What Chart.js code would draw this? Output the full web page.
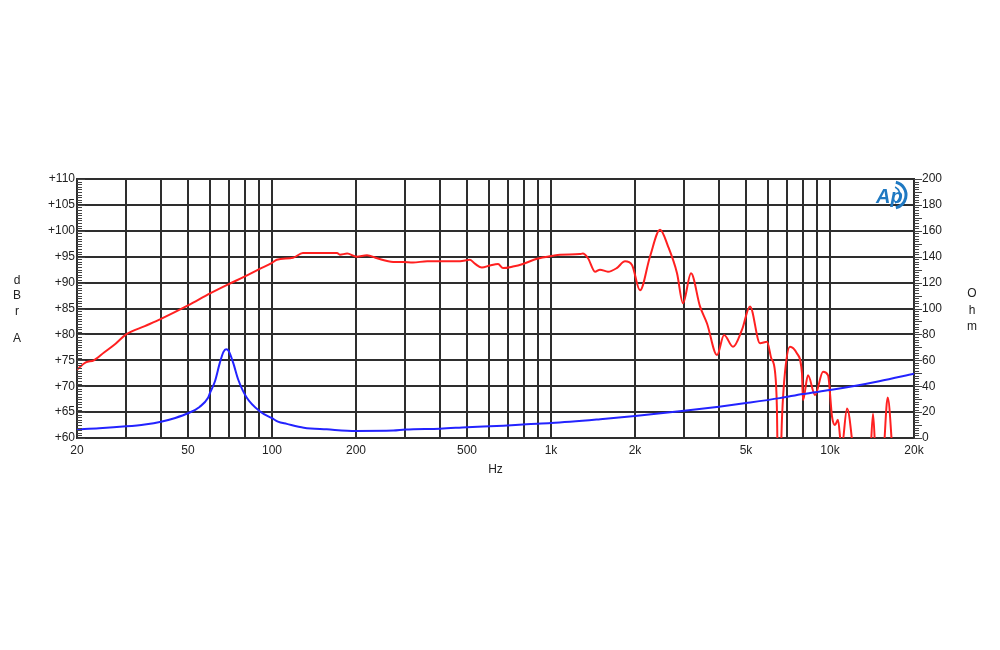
<!DOCTYPE html>
<html lang="en">
<head>
<meta charset="UTF-8">
<title>Frequency response</title>
<script src="https://cdn.jsdelivr.net/npm/chart.js"></script>
<style>
  body { margin: 0; background: #fff; }
</style>
</head>
<body>
<canvas id="fr" width="1000" height="650"></canvas>
<script>
// SPL curve (dBr A, left axis)
const splFreq = [20, 21.5, 23, 25, 27.5, 30, 35, 40, 50, 60, 70, 80, 90, 100, 104, 119, 129, 171, 175, 186, 201, 219, 238, 272, 295, 320, 360, 472, 512, 535, 565, 604, 646, 673, 730, 793, 891, 1015, 1077, 1268, 1300, 1357, 1438, 1498, 1600, 1720, 1842, 1951, 2084, 2263, 2459, 2627, 2829, 2972, 3175, 3420, 3624, 3936, 4171, 4491, 4837, 5168, 5613, 5947, 6150, 6352, 6450, 6520, 6650, 6730, 6900, 7188, 7615, 7935, 8000, 8340, 8840, 9440, 9840, 10170, 10420, 10680, 11000, 11510, 12290, 13000, 13900, 14260, 14650, 15400, 16100, 16900, 18000, 20000];
const splDb = [73.2, 74.6, 75.0, 76.5, 78.2, 80.0, 81.6, 83.0, 85.6, 87.9, 89.7, 91.2, 92.6, 93.8, 94.4, 94.8, 95.7, 95.7, 95.4, 95.6, 95.0, 95.3, 94.7, 94.0, 94.0, 93.9, 94.1, 94.1, 94.4, 93.6, 92.9, 93.3, 93.6, 92.8, 93.1, 93.6, 94.6, 95.2, 95.4, 95.5, 95.6, 94.7, 92.1, 92.5, 92.1, 92.8, 94.1, 93.4, 88.5, 95.0, 100.2, 97.0, 91.8, 86.0, 91.8, 85.4, 82.1, 76.0, 79.9, 77.6, 80.9, 85.4, 78.3, 78.6, 75.5, 72.8, 66.0, 50.0, 55.0, 64.0, 72.8, 77.6, 76.3, 72.5, 67.3, 72.1, 68.3, 72.8, 72.1, 64.1, 62.5, 63.5, 58.0, 65.7, 55.0, 50.0, 55.0, 64.7, 55.0, 55.0, 67.8, 55.0, 50.0, 50.0];

// impedance curve (Ohm, right axis)
const impFreq = [20, 24, 30, 35, 40, 45, 50, 55, 59, 60, 62.5, 65, 67, 68.5, 70, 72.6, 75.7, 81, 90.6, 100, 105, 113, 130, 157, 200, 272, 300, 400, 500, 674, 817, 1000, 1500, 2000, 3000, 4000, 5000, 6600, 8000, 10000, 12500, 15000, 20000];
const impOhm = [6.7, 7.5, 9.0, 10.5, 12.6, 15.5, 19.1, 24.0, 31.0, 35.0, 44.0, 58.0, 66.5, 68.5, 67.0, 58.0, 45.0, 31.5, 20.5, 15.3, 12.6, 10.9, 8.0, 6.7, 5.4, 5.7, 6.5, 7.2, 8.3, 9.5, 10.6, 11.5, 14.5, 17.0, 21.0, 24.2, 27.0, 30.8, 34.0, 37.0, 40.5, 43.8, 49.6];

// x grid lines and labelled ticks
const xGrid = [20, 30, 40, 50, 60, 70, 80, 90, 100, 200, 300, 400, 500, 600, 700, 800, 900, 1000, 2000, 3000, 4000, 5000, 6000, 7000, 8000, 9000, 10000, 20000];
const xLabelVals = [20, 50, 100, 200, 500, 1000, 2000, 5000, 10000, 20000];
const xLabelText = ['20', '50', '100', '200', '500', '1k', '2k', '5k', '10k', '20k'];

const gridColor = '#2e2e2e';
const textColor = '#222';
const tickFont = { family: '"Liberation Sans", Arial, sans-serif', size: 12 };

// small ticks along both vertical axes
const minorTicks = {
  id: 'minorTicks',
  afterDraw(chart) {
    const ctx = chart.ctx;
    const y = chart.scales.y, y2 = chart.scales.y2;
    const a = chart.chartArea;
    ctx.save();
    ctx.strokeStyle = '#444';
    ctx.lineWidth = 1;
    ctx.beginPath();
    for (let v = 60; v <= 110; v += 0.5) {
      const p = Math.round(y.getPixelForValue(v)) + 0.5;
      const len = v % 5 === 0 ? 8 : 5;
      ctx.moveTo(a.left, p);
      ctx.lineTo(a.left + len, p);
    }
    for (let v = 0; v <= 200; v += 2) {
      const p = Math.round(y2.getPixelForValue(v)) + 0.5;
      const len = v % 10 === 0 ? 8 : 5;
      ctx.moveTo(a.right, p);
      ctx.lineTo(a.right + len, p);
    }
    ctx.stroke();
    ctx.restore();
  }
};

// stacked letter axis titles and the Ap logo
const sideText = {
  id: 'sideText',
  afterDraw(chart) {
    const ctx = chart.ctx;
    const a = chart.chartArea;
    const mid = (a.top + a.bottom) / 2;
    ctx.save();
    ctx.fillStyle = textColor;
    ctx.font = '12px "Liberation Sans", Arial, sans-serif';
    ctx.textAlign = 'center';
    ctx.textBaseline = 'middle';
    [['d', -28], ['B', -13], ['r', 3], ['A', 30]].forEach(([t, dy]) => ctx.fillText(t, 17, mid + dy));
    [['O', -15], ['h', 2], ['m', 18]].forEach(([t, dy]) => ctx.fillText(t, 972, mid + dy));

    // logo
    const lx = a.right - 21, ly = a.top + 16;
    ctx.fillStyle = '#1f79c2';
    ctx.strokeStyle = '#1f79c2';
    ctx.font = 'italic bold 20px "Liberation Sans", Arial, sans-serif';
    ctx.textAlign = 'left';
    ctx.textBaseline = 'alphabetic';
    ctx.fillText('Ap', lx - 17, ly + 8);
    ctx.lineWidth = 3;
    ctx.beginPath();
    ctx.arc(lx, ly, 13, -1.35, 1.35);
    ctx.stroke();
    ctx.lineWidth = 1.5;
    ctx.beginPath();
    ctx.arc(lx - 2, ly, 9, -1.1, 1.1);
    ctx.stroke();
    ctx.restore();
  }
};

new Chart(document.getElementById('fr'), {
  type: 'line',
  data: {
    datasets: [{
      label: 'Impedance',
      data: impFreq.map((f, i) => ({ x: f, y: impOhm[i] })),
      yAxisID: 'y2',
      borderColor: '#2323ff',
      borderWidth: 2,
      pointRadius: 0,
      cubicInterpolationMode: 'monotone',
      fill: false
    }, {
      label: 'SPL',
      data: splFreq.map((f, i) => ({ x: f, y: splDb[i] })),
      yAxisID: 'y',
      borderColor: '#ff2020',
      borderWidth: 2,
      pointRadius: 0,
      cubicInterpolationMode: 'monotone',
      fill: false
    }]
  },
  options: {
    responsive: false,
    animation: false,
    layout: { padding: { top: 179, left: 0, right: 0, bottom: 0 } },
    plugins: { legend: { display: false }, tooltip: { enabled: false } },
    scales: {
      x: {
        type: 'logarithmic',
        position: 'bottom',
        min: 20,
        max: 20000,
        afterBuildTicks: (s) => { s.ticks = xGrid.map(v => ({ value: v })); },
        afterFit: (s) => { s.height = 212; },
        ticks: {
          autoSkip: false,
          maxRotation: 0,
          padding: 5,
          color: textColor,
          font: tickFont,
          callback: (v) => {
            const i = xLabelVals.indexOf(v);
            return i >= 0 ? xLabelText[i] : '';
          }
        },
        grid: { color: gridColor, lineWidth: 2, drawTicks: false },
        border: { color: gridColor, width: 2 },
        title: {
          display: true,
          text: 'Hz',
          color: textColor,
          font: tickFont,
          padding: { top: 0, bottom: 173 }
        }
      },
      y: {
        position: 'left',
        min: 60,
        max: 110,
        afterFit: (s) => { s.width = 77; },
        ticks: {
          stepSize: 5,
          padding: 2,
          color: textColor,
          font: tickFont,
          callback: (v) => '+' + v
        },
        grid: { color: gridColor, lineWidth: 2, drawTicks: false },
        border: { color: gridColor, width: 2 }
      },
      y2: {
        position: 'right',
        min: 0,
        max: 200,
        afterFit: (s) => { s.width = 86; },
        ticks: {
          stepSize: 20,
          padding: 8,
          color: textColor,
          font: tickFont
        },
        grid: { drawOnChartArea: false, drawTicks: false },
        border: { color: gridColor, width: 2 }
      }
    }
  },
  plugins: [minorTicks, sideText]
});
</script>
</body>
</html>
